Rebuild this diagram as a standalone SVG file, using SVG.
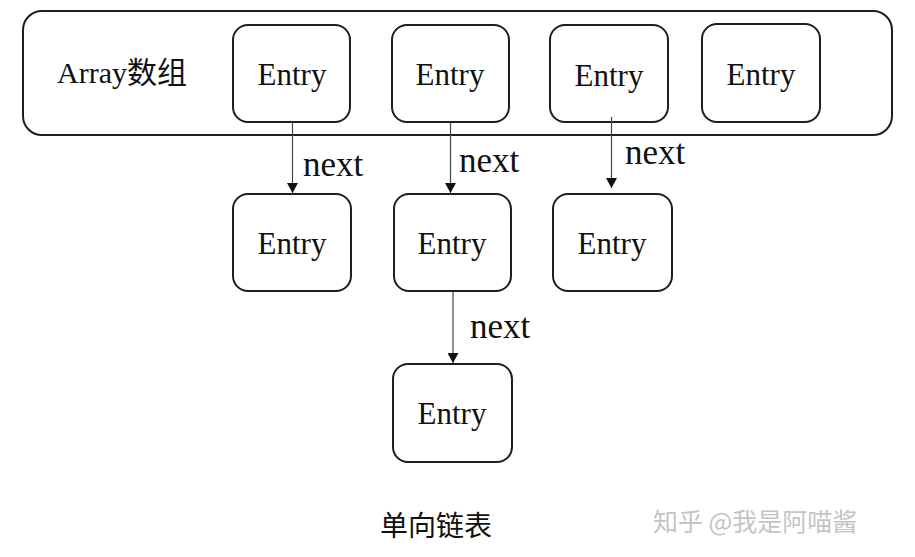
<svg xmlns="http://www.w3.org/2000/svg" width="915" height="557" viewBox="0 0 915 557">
<style>
.box{fill:#fff;stroke:#1e1e1e;stroke-width:2}
.lbl{font-family:"Liberation Serif","Noto Sans CJK SC",serif;font-size:31px;fill:#111;text-anchor:middle}
.nxt{font-family:"Liberation Serif",serif;font-size:35px;fill:#111}
.edge{stroke:#444;stroke-width:1.2;fill:none;marker-end:url(#ah)}
.cap{font-family:"Noto Sans CJK SC",sans-serif;font-size:28px;fill:#111}
.wm{font-family:"Noto Sans CJK SC",sans-serif;font-size:25px;fill:#c4c4c4}
</style>
<defs>
<marker id="ah" viewBox="0 0 10 11" refX="10" refY="5.5" markerWidth="10" markerHeight="11" markerUnits="userSpaceOnUse" orient="auto">
<path d="M0,0 L10,5.5 L0,11 Z" fill="#111"/>
</marker>
</defs>
<rect width="915" height="557" fill="#fff"/>
<g id="array">
<rect class="box" x="23" y="11" width="869" height="124" rx="19"/>
<text class="lbl" x="57" y="83" style="text-anchor:start;font-size:30px">Array数组</text>
</g>
<g id="entry-a1"><rect class="box" x="233" y="25" width="117" height="97" rx="15"/><text class="lbl" x="292" y="85">Entry</text></g>
<g id="entry-a2"><rect class="box" x="392" y="25" width="117" height="97" rx="15"/><text class="lbl" x="450" y="85">Entry</text></g>
<g id="entry-a3"><rect class="box" x="550" y="25" width="118" height="97" rx="15"/><text class="lbl" x="609" y="86">Entry</text></g>
<g id="entry-a4"><rect class="box" x="702" y="24" width="118" height="98" rx="15"/><text class="lbl" x="761" y="85">Entry</text></g>
<g id="entry-b1"><rect class="box" x="233" y="194" width="118" height="97" rx="15"/><text class="lbl" x="292" y="254">Entry</text></g>
<g id="entry-b2"><rect class="box" x="394" y="194" width="117" height="97" rx="15"/><text class="lbl" x="452" y="254">Entry</text></g>
<g id="entry-b3"><rect class="box" x="553" y="194" width="119" height="97" rx="15"/><text class="lbl" x="612" y="254">Entry</text></g>
<g id="entry-c1"><rect class="box" x="393" y="364" width="119" height="98" rx="15"/><text class="lbl" x="452" y="424">Entry</text></g>
<g id="connectors">
<line class="edge" x1="292.5" y1="122" x2="292.5" y2="193"/>
<line class="edge" x1="450.5" y1="122" x2="450.5" y2="193"/>
<line class="edge" x1="611.5" y1="117" x2="611.5" y2="188"/>
<line class="edge" x1="453" y1="292" x2="453" y2="363"/>
<text class="nxt" x="303" y="176">next</text>
<text class="nxt" x="459" y="172">next</text>
<text class="nxt" x="625" y="164">next</text>
<text class="nxt" x="470" y="338">next</text>
</g>
<text class="cap" x="380" y="536">单向链表</text>
<text class="wm" x="653" y="531">知乎 @我是阿喵酱</text>
</svg>
